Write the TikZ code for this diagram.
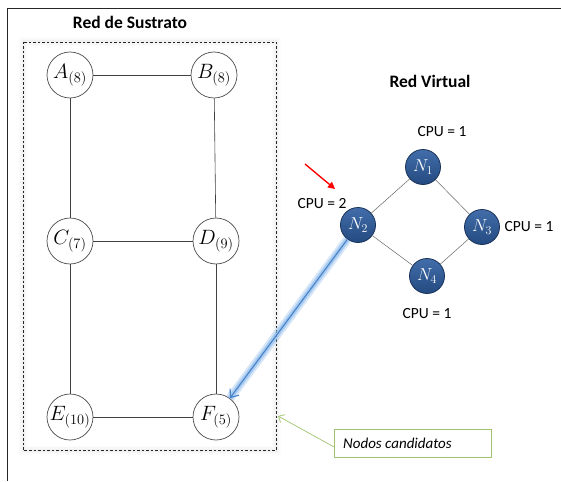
\documentclass[tikz,border=0pt]{standalone}
\usepackage{fontspec}
\setmainfont{Carlito}
\usetikzlibrary{arrows.meta}

\definecolor{vfillA}{RGB}{66,110,170}
\definecolor{vfillB}{RGB}{36,74,128}
\definecolor{vline}{RGB}{25,50,90}
\definecolor{glowblue}{RGB}{140,185,235}
\definecolor{arrowblue}{RGB}{70,130,200}
\definecolor{calloutgreen}{RGB}{160,195,110}

\begin{document}
\begin{tikzpicture}[x=1pt,y=-1pt,
  snode/.style={circle,draw=black!70,line width=0.7pt,fill=white,minimum size=46pt,
    inner sep=0pt,font=\fontsize{20}{24}\selectfont},
  vnode/.style={circle,draw=vline,line width=0.8pt,top color=vfillA,bottom color=vfillB,
    minimum size=35pt,inner sep=0pt,text=white,font=\fontsize{18.5}{22}\selectfont},
  sedge/.style={draw=black!75,line width=0.6pt},
  vedge/.style={draw=black!60,line width=0.5pt},
  cpu/.style={font=\fontsize{15.5}{18}\selectfont,inner sep=0pt},
  heading/.style={font=\bfseries\fontsize{17.5}{20}\selectfont,inner sep=0pt},
  callout/.style={draw=calloutgreen,line width=0.8pt,fill=white,minimum width=157pt,
    minimum height=28pt,inner sep=0pt},
]
\useasboundingbox (0,0) rectangle (561,481);

% page frame
\draw[line width=1pt,black!85] (7,481) -- (7,8.5) -- (561,8.5);

% substrate network frame with soft shadow
\foreach \w/\o in {9/0.012,6/0.018,3/0.025}
  \draw[black,opacity=\o,line width=\w pt] (23,42) rectangle (276,450);
\draw[dashed,black!85,line width=0.6pt,dash pattern=on 2.5pt off 2pt] (23,42) rectangle (276,450);

\node[heading] (t1) at (130,22) {Red de Sustrato};

% substrate nodes
\node[snode] (A) at (70,75)  {$A_{(8)}$};
\node[snode] (B) at (214,75) {$B_{(8)}$};
\node[snode] (C) at (70,241) {$C_{(7)}$};
\node[snode] (D) at (216,241) {$D_{(9)}$};
\node[snode] (E) at (70,417) {$E_{(10)}$};
\node[snode] (F) at (216,417) {$F_{(5)}$};

\draw[sedge] (A) -- (B);
\draw[sedge] (A) -- (C);
\draw[sedge] (B) -- (D);
\draw[sedge] (C) -- (D);
\draw[sedge] (C) -- (E);
\draw[sedge] (D) -- (F);
\draw[sedge] (E) -- (F);

% virtual network
\node[heading] (t2) at (430,81) {Red Virtual};

\node[vnode] (N1) at (423,167) {$N_1$};
\node[vnode] (N2) at (358,225) {$N_2$};
\node[vnode] (N3) at (482,227) {$N_3$};
\node[vnode] (N4) at (427,276) {$N_4$};

\draw[vedge] (N1) -- (N2);
\draw[vedge] (N1) -- (N3);
\draw[vedge] (N2) -- (N4);
\draw[vedge] (N4) -- (N3);

\node[cpu] (c1) at (442,132) {CPU = 1};
\node[cpu] (c2) at (322,204) {CPU = 2};
\node[cpu] (c3) at (529,227) {CPU = 1};
\node[cpu] (c4) at (427,314) {CPU = 1};

% pointer to the node being mapped
\coordinate (r0) at (305,164);
\coordinate (r1) at (335,189);
\draw[red,line width=1.4pt,-{Triangle[length=7pt,width=7pt]}] (r0) -- (r1);

% mapping arrow with glow
\draw[glowblue,opacity=0.35,line width=9pt] (N2) -- (F);
\draw[glowblue,opacity=0.6,line width=5pt] (N2) -- (F);
\draw[arrowblue,line width=1.1pt,-{Straight Barb[length=7pt,width=11pt]}] (N2) -- (F);

% callout
\node[callout] (nc) at (413,443) {};
\node[font=\itshape\fontsize{15}{18}\selectfont,anchor=west,inner sep=0pt] (nct) at (343,443) {Nodos candidatos};
\coordinate (ct) at (278,416);
\draw[calloutgreen,line width=0.7pt,-{Straight Barb[length=5pt,width=9pt]}] (nc.west |- 0,447) -- (ct);
\end{tikzpicture}
\end{document}
